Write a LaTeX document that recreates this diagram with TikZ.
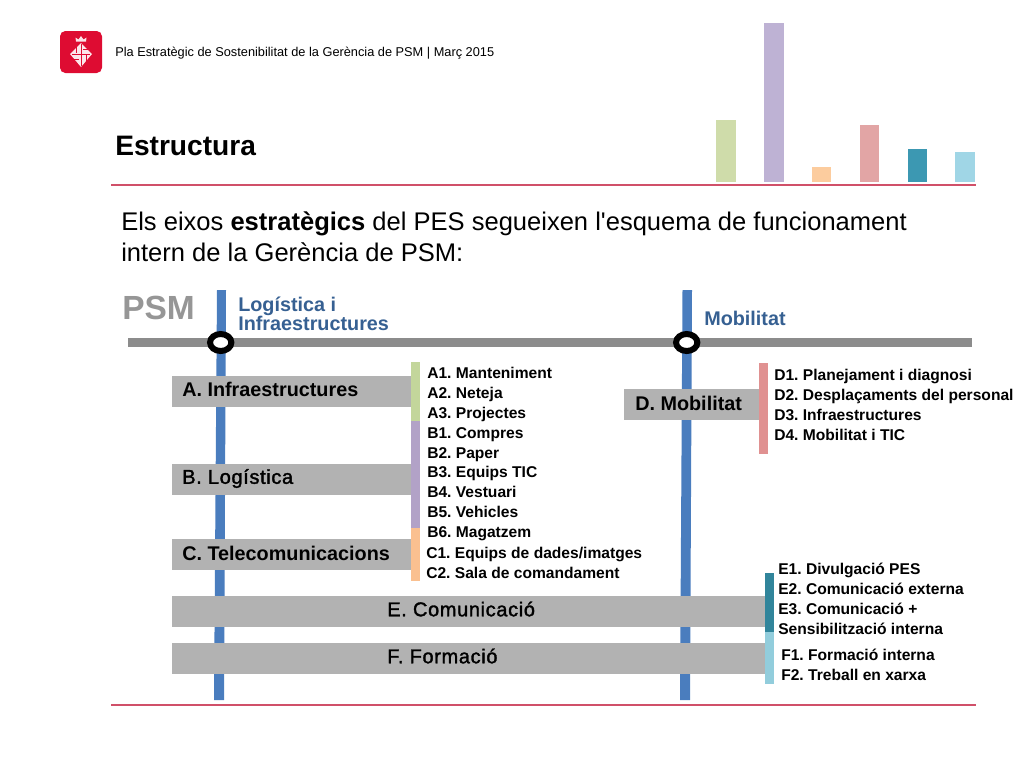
\documentclass[tikz,border=0pt]{standalone}
\usepackage{fontspec}
\setmainfont{Liberation Sans}[Ligatures=TeXOff]
\usetikzlibrary{shapes.geometric}
\definecolor{railblue}{RGB}{74,125,190}
\definecolor{railgrey}{RGB}{140,140,140}
\definecolor{psmgrey}{RGB}{150,150,150}
\definecolor{boxgrey}{RGB}{178,178,178}
\definecolor{headblue}{RGB}{54,96,146}
\definecolor{rulered}{RGB}{208,80,105}
\definecolor{logored}{RGB}{222,12,50}
\definecolor{cA}{RGB}{195,214,155}
\definecolor{cB}{RGB}{178,162,199}
\definecolor{cC}{RGB}{250,192,144}
\definecolor{cD}{RGB}{224,145,145}
\definecolor{cE}{RGB}{49,133,155}
\definecolor{cF}{RGB}{146,205,220}
\definecolor{bA}{RGB}{207,220,170}
\definecolor{bB}{RGB}{190,178,212}
\definecolor{bC}{RGB}{252,204,158}
\definecolor{bD}{RGB}{226,165,165}
\definecolor{bE}{RGB}{60,152,178}
\definecolor{bF}{RGB}{160,214,230}
\newfontfamily\lightlabel{Liberation Sans}[LetterSpace=3.2,FakeBold=1.6]
\tikzset{
 x=0.75pt,y=-0.75pt,
 boxlabel/.style={font=\frenchspacing\bfseries\fontsize{14.85}{18}\selectfont,text=black,anchor=west,inner sep=0pt},
 softlabel/.style={font=\frenchspacing\lightlabel\fontsize{15}{18}\selectfont,text=black,anchor=west,inner sep=0pt},
 item/.style={font=\frenchspacing\bfseries\fontsize{11.7}{14.9}\selectfont,text=black,anchor=north west,inner sep=0pt,align=left},
 bar/.style={fill=#1,draw=none},
 rail/.style={fill=railblue,draw=none},
 stopring/.style={draw=black,fill=white,line width=4.5pt,ellipse,minimum width=16pt,minimum height=12.75pt,inner sep=0pt},
 head/.style={font=\bfseries\fontsize{14.85}{14.4}\selectfont,text=headblue,anchor=west,inner sep=0pt,align=left},
}
\begin{document}
\begin{tikzpicture}
\useasboundingbox (0,0) rectangle (1024,768);
% logo
\fill[logored,rounded corners=4pt] (60,31) rectangle (102,73);
\fill[white!90!logored] (81,43) -- (92,54) -- (81,67) -- (70,54) -- cycle;
\fill[white!88!logored] (76,41.5) -- (75.5,37.5) -- (78.5,39.5) -- (81,36) -- (83.5,39.5) -- (86.5,37.5) -- (86,41.5) -- cycle;
\draw[logored,line width=0.6pt] (81,44) -- (81,66) (72,54) -- (90,54) (76,47) -- (76,53) (86,55) -- (86,62) (83,49) -- (89,49) (73,59) -- (79,59);
% chart bars
\fill[bar=bA] (716,120) rectangle (736,182);
\fill[bar=bB] (764,23) rectangle (784,182);
\fill[bar=bC] (812,167) rectangle (831,182);
\fill[bar=bD] (860,125) rectangle (879,182);
\fill[bar=bE] (908,149) rectangle (927,182);
\fill[bar=bF] (955,152) rectangle (975,182);
% rules
\fill[rulered] (111,184) rectangle (976,186);
\fill[rulered] (111,704) rectangle (976,705.5);
% texts
\node[anchor=west,inner sep=0pt,font=\fontsize{9.58}{11}\selectfont] (hdr) at (115,53) {Pla Estratègic de Sostenibilitat de la Gerència de PSM | Març 2015};
\node[anchor=west,inner sep=0pt,font=\bfseries\fontsize{21.1}{25}\selectfont] (title) at (115,145.5) {Estructura};
\node[anchor=north west,inner sep=0pt,align=left,font=\fontsize{19.15}{23.2}\selectfont] (intro) at (121,211.5) {Els eixos \textbf{estratègics} del PES segueixen l'esquema de funcionament\\intern de la Gerència de PSM:};
\node[anchor=west,inner sep=0pt,font=\bfseries\fontsize{25.1}{30}\selectfont,text=psmgrey] (psm) at (122,308) {PSM};
% rails
\fill[rail] (217,290) -- (226,290) -- (224,700) -- (214,700) -- cycle;
\fill[rail] (682.5,290) -- (692,290) -- (690,700) -- (680,700) -- cycle;
\fill[railgrey] (128,338) rectangle (972,346.5);
\node[stopring] (s1) at (220.7,342.5) {};
\node[stopring] (s2) at (686.7,342.5) {};
\node[head] (h1) at (238,313.5) {Logística i\\Infraestructures};
\node[head] (h2) at (704,318.5) {Mobilitat};
% boxes
\fill[boxgrey] (172,376) rectangle (411,407);
\fill[boxgrey] (172,464) rectangle (411,495);
\fill[boxgrey] (172,539) rectangle (411,570);
\fill[boxgrey] (624,389) rectangle (759,420);
\fill[boxgrey] (172,596) rectangle (765,627);
\fill[boxgrey] (172,643) rectangle (765,674);
% strips
\fill[bar=cA] (411,362) rectangle (420,421);
\fill[bar=cB] (411,421) rectangle (420,528);
\fill[bar=cC] (411,528) rectangle (420,581);
\fill[bar=cD] (759,363) rectangle (768,454);
\fill[bar=cE] (765,573) rectangle (774,632);
\fill[bar=cF] (765,632) rectangle (774,684);
% box labels
\node[boxlabel] (A) at (182,389.5) {A. Infraestructures};
\node[softlabel] (B) at (182,478.5) {B. Logística};
\node[boxlabel] (C) at (182,553) {C. Telecomunicacions};
\node[boxlabel] (D) at (635,403) {D. Mobilitat};
\node[softlabel] (E) at (387,609) {E. Comunicació};
\node[softlabel] (F) at (387,656) {F. Formació};
% items
\node[item] (la) at (427,367) {A1. Manteniment\\A2. Neteja\\A3. Projectes\\B1. Compres\\B2. Paper\\B3. Equips TIC\\B4. Vestuari\\B5. Vehicles\\B6. Magatzem};
\node[item] (lc) at (426,547) {C1. Equips de dades/imatges\\C2. Sala de comandament};
\node[item] (ld) at (774,369) {D1. Planejament i diagnosi\\D2. Desplaçaments del personal\\D3. Infraestructures\\D4. Mobilitat i TIC};
\node[item] (le) at (778,563) {E1. Divulgació PES\\E2. Comunicació externa\\E3. Comunicació +\\Sensibilització interna};
\node[item] (lf) at (781,649) {F1. Formació interna\\F2. Treball en xarxa};
\end{tikzpicture}
\end{document}
